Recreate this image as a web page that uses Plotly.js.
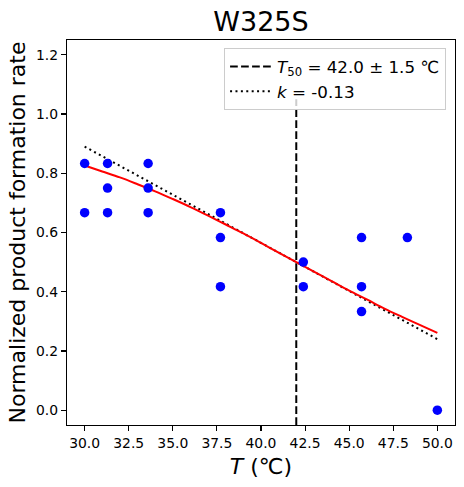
<!DOCTYPE html>
<html>
<head>
<meta charset="utf-8">
<script src="https://cdn.plot.ly/plotly-3.0.1.min.js"></script>
<style>html,body{margin:0;padding:0;background:#fff;}</style>
</head>
<body>
<div id="chart" style="width:464px;height:487px;"></div>
<script>
// Measured data points
const tempPoints = [30.0, 30.0, 31.3, 31.3, 31.3, 33.6, 33.6, 33.6, 37.7, 37.7, 37.7, 42.4, 42.4, 45.7, 45.7, 45.7, 48.3, 50.0];
const ratePoints = [0.833, 0.667, 0.833, 0.75, 0.667, 0.833, 0.75, 0.667, 0.667, 0.583, 0.417, 0.5, 0.417, 0.583, 0.417, 0.333, 0.583, 0.0];

// Fitted curve
const fitT = [30, 31, 32, 33, 34, 35, 36, 37, 38, 39, 40, 41, 42, 43, 44, 45, 46, 47, 48, 49, 50];
const fitY = [0.826, 0.806, 0.786, 0.763, 0.739, 0.713, 0.686, 0.657, 0.627, 0.597, 0.565, 0.532, 0.500, 0.468, 0.436, 0.404, 0.374, 0.343, 0.315, 0.288, 0.261];

// Slope line at T50
const slopeT = [30, 50];
const slopeY = [0.89, 0.24];

// T50 marker line
const t50T = [42.0, 42.0];
const t50Y = [-0.05, 1.05];

const xTicks = [30.0, 32.5, 35.0, 37.5, 40.0, 42.5, 45.0, 47.5, 50.0];
const yTicks = [0.0, 0.2, 0.4, 0.6, 0.8, 1.0, 1.2];

const FONT = 'DejaVu Sans, sans-serif';

const traces = [
  {
    x: t50T, y: t50Y, mode: 'lines', type: 'scatter',
    name: '<i>T</i><sub>50</sub> = 42.0 ± 1.5 ℃',
    line: {color: 'black', width: 2, dash: '7.7px,3.3px'},
    hoverinfo: 'skip'
  },
  {
    x: slopeT, y: slopeY, mode: 'lines', type: 'scatter',
    name: '<i>k</i> = -0.13',
    line: {color: 'black', width: 2, dash: '2px,3.4px'},
    hoverinfo: 'skip'
  },
  {
    x: fitT, y: fitY, mode: 'lines', type: 'scatter',
    line: {color: 'red', width: 2, shape: 'spline'},
    showlegend: false
  },
  {
    x: tempPoints, y: ratePoints, mode: 'markers', type: 'scatter',
    marker: {color: 'blue', size: 9.5},
    showlegend: false
  }
];

const axisCommon = {
  showline: true, linecolor: 'black', linewidth: 1.1, mirror: true,
  ticks: 'outside', ticklen: 5, tickwidth: 1.1, tickcolor: 'black',
  showgrid: false, zeroline: false,
  tickfont: {family: FONT, size: 13.9, color: 'black'},
  tickformat: '.1f'
};

const layout = {
  width: 464, height: 487,
  margin: {l: 67, r: 9, t: 40, b: 62, pad: 0},
  paper_bgcolor: 'white', plot_bgcolor: 'white',
  font: {family: FONT, color: 'black'},
  title: {
    text: 'W325S', font: {family: FONT, size: 27, color: 'black'},
    x: 0.5625, xanchor: 'center', xref: 'container',
    y: 0.9548, yanchor: 'middle', yref: 'container'
  },
  xaxis: Object.assign({}, axisCommon, {
    range: [29, 51], tickvals: xTicks,
    title: {text: '<i>T</i> (℃)', font: {family: FONT, size: 22, color: 'black'}, standoff: 8}
  }),
  yaxis: Object.assign({}, axisCommon, {
    range: [-0.05, 1.25], tickvals: yTicks,
    title: {text: 'Normalized product formation rate', font: {family: FONT, size: 22, color: 'black'}, standoff: 4}
  }),
  legend: {
    x: 0.977, xanchor: 'right', y: 0.979, yanchor: 'top',
    bgcolor: 'rgba(255,255,255,0.8)', bordercolor: '#cccccc', borderwidth: 1,
    font: {family: FONT, size: 16.7, color: 'black'},
    tracegroupgap: 0, itemwidth: 42
  },
  showlegend: true
};

Plotly.newPlot('chart', traces, layout, {staticPlot: true, displayModeBar: false});
</script>
</body>
</html>
